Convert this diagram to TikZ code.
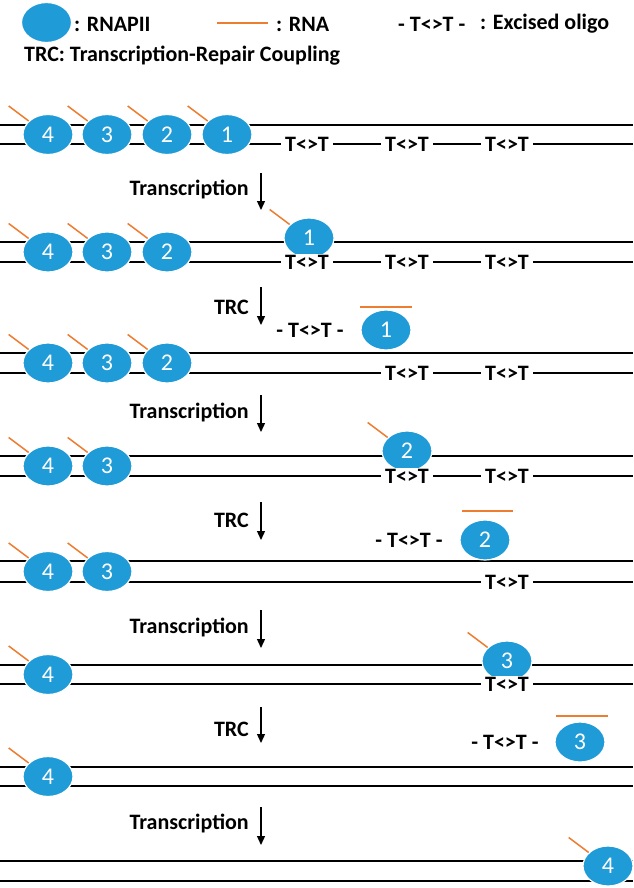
\documentclass[tikz,border=0pt]{standalone}
\usepackage{fontspec}
\setmainfont{Carlito}
\usetikzlibrary{shapes.geometric,arrows.meta}
\definecolor{polblue}{RGB}{31,155,215}
\definecolor{rnaorange}{RGB}{237,125,49}

\begin{document}
\begin{tikzpicture}[x=1pt,y=-1pt,
    pol/.style={ellipse,fill=polblue,draw=white,line width=1.2pt,minimum width=50pt,minimum height=40pt,inner sep=0pt,text=white,font=\fontsize{24}{24}\selectfont},
    strand/.style={black,line width=1.8pt},
    rna/.style={rnaorange,line width=1.5pt},
    lbl/.style={inner sep=0pt,font=\fontsize{22}{22}\selectfont\bfseries},
    dimer/.style={fill=white,inner xsep=4pt,inner ysep=1pt,font=\fontsize{22}{22}\selectfont\bfseries},
    steparrow/.style={-{Triangle[length=9pt,width=8pt]},line width=1.3pt}]
    \useasboundingbox (0,0) rectangle (633,888);
    \node[pol] (legpol) at (46.5,22.5) {};
    \node[lbl,anchor=west] (legpoltxt) at (74,24) {: RNAPII};
    \coordinate (legrnaa) at (217,23);
    \coordinate (legrnab) at (268,23);
    \draw[rna] (legrnaa) -- (legrnab);
    \node[lbl,anchor=west] (legrnatxt) at (276,24) {: RNA};
    \node[lbl,anchor=west] (legdimer) at (398,24) {- T<>T -};
    \node[lbl,anchor=west] (legdimertxt) at (480,24) {: Excised oligo};
    \node[lbl,anchor=west] (legtrc) at (24,56) {TRC: Transcription-Repair Coupling};
    \foreach \t/\b in {125/144,242/262,353/373,456/476,561/582,665/684,767/786,861/881} {
        \draw[strand] (0,\t) -- (633,\t);
        \draw[strand] (0,\b) -- (633,\b);
    }
    \foreach \n/\x in {4/48,3/107,2/167,1/227} {
        \node[pol] (ra\n) at (\x,134.5) {\n};
        \draw[rna] (ra\n.145) -- ++(-20,-15);
    }
    \foreach \n/\x in {4/48,3/107,2/167} {
        \node[pol] (rb\n) at (\x,252) {\n};
        \draw[rna] (rb\n.145) -- ++(-20,-15);
        \node[pol] (rc\n) at (\x,363) {\n};
        \draw[rna] (rc\n.145) -- ++(-20,-15);
    }
    \node[pol] (rb1) at (309,238) {1};
    \draw[rna] (rb1.145) -- ++(-20,-15);
    \foreach \n/\x in {4/48,3/107} {
        \node[pol] (rd\n) at (\x,466) {\n};
        \draw[rna] (rd\n.145) -- ++(-20,-15);
        \node[pol] (re\n) at (\x,571.5) {\n};
        \draw[rna] (re\n.145) -- ++(-20,-15);
    }
    \node[pol] (rd2) at (407,451) {2};
    \draw[rna] (rd2.145) -- ++(-20,-15);
    \node[pol] (rf4) at (48,674.5) {4};
    \draw[rna] (rf4.145) -- ++(-20,-15);
    \node[pol] (rf3) at (507,661) {3};
    \draw[rna] (rf3.145) -- ++(-20,-15);
    \node[pol] (rg4) at (48,776.5) {4};
    \draw[rna] (rg4.145) -- ++(-20,-15);
    \node[pol] (rh4) at (608,866) {4};
    \draw[rna] (rh4.145) -- ++(-20,-15);
    \foreach \x in {307,407,507} {
        \node[dimer] (da\x) at (\x,144) {T<>T};
        \node[dimer] (db\x) at (\x,262) {T<>T};
    }
    \foreach \x in {407,507} {
        \node[dimer] (dc\x) at (\x,373) {T<>T};
        \node[dimer] (dd\x) at (\x,476) {T<>T};
    }
    \node[dimer] (de507) at (507,582) {T<>T};
    \node[dimer] (df507) at (507,684) {T<>T};
    \foreach \k/\y/\t/\a/\b in {1/189/Transcription/173/210,2/307/TRC/287/325,3/412/Transcription/395/432,4/520/TRC/502/540,5/627/Transcription/610/648,6/729/TRC/707/743,7/823/Transcription/807/845} {
        \node[lbl,anchor=east] (step\k) at (249,\y) {\t};
        \coordinate (step\k a) at (261,\a);
        \coordinate (step\k b) at (261,\b);
        \draw[steparrow] (step\k a) -- (step\k b);
    }
    \node[lbl] (oligo1) at (310,330) {- T<>T -};
    \node[pol] (free1) at (386,330) {1};
    \coordinate (rna1a) at (360,307);
    \coordinate (rna1b) at (412,307);
    \draw[rna] (rna1a) -- (rna1b);
    \node[lbl] (oligo2) at (409,540) {- T<>T -};
    \node[pol] (free2) at (485,540) {2};
    \coordinate (rna2a) at (462,511);
    \coordinate (rna2b) at (513,511);
    \draw[rna] (rna2a) -- (rna2b);
    \node[lbl] (oligo3) at (505,742) {- T<>T -};
    \node[pol] (free3) at (580,742) {3};
    \coordinate (rna3a) at (556,716);
    \coordinate (rna3b) at (608,716);
    \draw[rna] (rna3a) -- (rna3b);
\end{tikzpicture}
\end{document}
